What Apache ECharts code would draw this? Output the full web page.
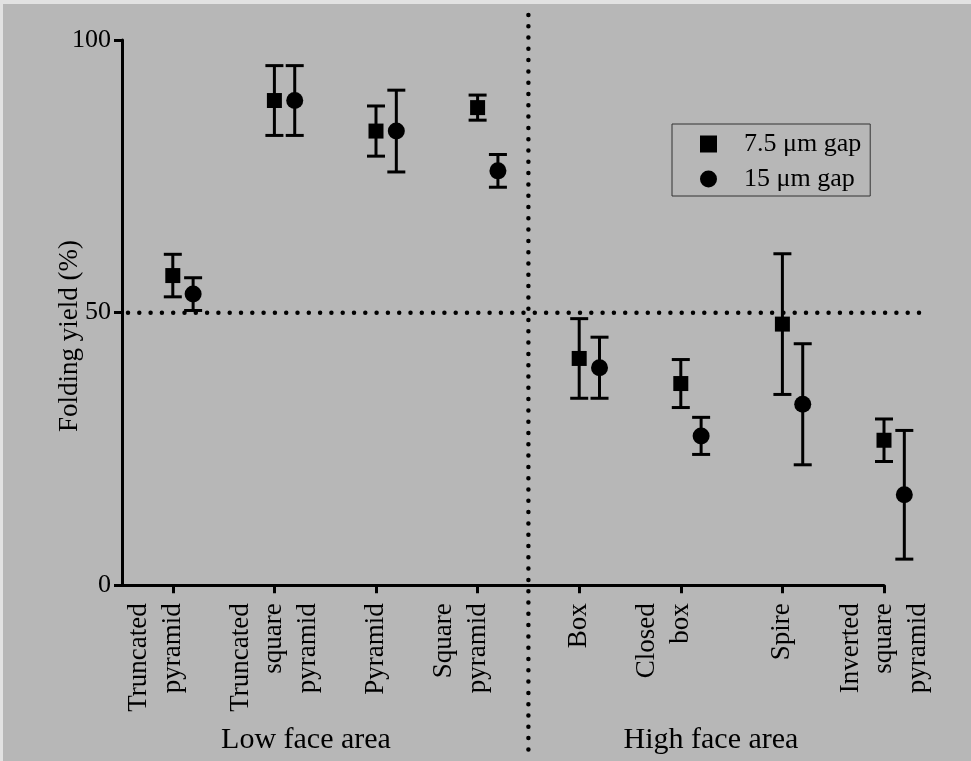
<!DOCTYPE html>
<html><head><meta charset="utf-8">
<script src="https://cdn.jsdelivr.net/npm/echarts@6/dist/echarts.min.js"></script>
<style>
html,body{margin:0;padding:0;background:#e2e2e2;}
#chart{position:absolute;left:3px;top:4px;width:968px;height:757px;}
</style></head><body><div id="chart"></div>
<script>
// ---- data ----
const tickLabels = ['Truncated\npyramid\n ', 'Truncated\nsquare\npyramid', 'Pyramid', 'Square\npyramid\n ',
                    'Box', 'Closed\nbox\n ', 'Spire', 'Inverted\nsquare\npyramid'];
const seriesNames = ['7.5 \u03bcm gap', '15 \u03bcm gap'];
const gap75Mean = [56.8, 88.9, 83.3, 87.6, 41.6, 37.0, 47.9, 26.6];
const gap75Err  = [3.9, 6.4, 4.6, 2.3, 7.3, 4.4, 12.9, 3.9];
const gap15Mean = [53.4, 88.9, 83.3, 76.0, 39.9, 27.4, 33.2, 16.6];
const gap15Err  = [3.0, 6.4, 7.5, 3.0, 5.6, 3.4, 11.1, 11.8];
const yTicks = [0, 50, 100];
const refValue = 50;            // horizontal reference line
const groupDivider = 4.5;       // between the two groups
const groupLabels = ['Low face area', 'High face area'];
const yTitle = 'Folding yield (%)';

// ---- style constants ----
const FONT = "'Liberation Serif','Times New Roman',serif";
const CIRCLE_OFFSET = 0.2;
const catPos = tickLabels.map((_, i) => i + 1);

const chart = echarts.init(document.getElementById('chart'), null, {renderer: 'canvas'});

function errRender(params, api) {
  const x = api.value(0), m = api.value(1), e = api.value(2);
  const top = api.coord([x, m + e]);
  const bot = api.coord([x, m - e]);
  const hw = 9;
  const style = {stroke: '#000', lineWidth: 3, fill: null};
  return {type: 'group', children: [
    {type: 'line', shape: {x1: top[0], y1: top[1], x2: bot[0], y2: bot[1]}, style},
    {type: 'line', shape: {x1: top[0] - hw, y1: top[1], x2: top[0] + hw, y2: top[1]}, style},
    {type: 'line', shape: {x1: bot[0] - hw, y1: bot[1], x2: bot[0] + hw, y2: bot[1]}, style}
  ]};
}

function refRender(params, api) {
  const style = {stroke: '#000', lineWidth: 4.5, lineDash: [0, 11.3], lineCap: 'round', fill: null};
  const vTop = api.coord([groupDivider, 104.6]);
  const vBot = api.coord([groupDivider, -30.6]);
  const hL = api.coord([0.5, refValue]);
  const hR = api.coord([8.35, refValue]);
  return {type: 'group', children: [
    {type: 'line', shape: {x1: vTop[0], y1: vTop[1], x2: vBot[0], y2: vBot[1]}, style},
    {type: 'line', shape: {x1: hL[0] + 6, y1: hL[1], x2: hR[0], y2: hR[1]}, style}
  ]};
}

const option = {
  backgroundColor: '#b7b7b7',
  animation: false,
  textStyle: {fontFamily: FONT, color: '#000'},
  grid: {left: 119, top: 36, right: 87, bottom: 175.7, containLabel: false, outerBoundsMode: 'none'},
  xAxis: {
    type: 'value', min: 0.5, max: 8,
    axisLine: {show: true, onZero: false, lineStyle: {color: '#000', width: 3}},
    axisTick: {show: true, customValues: catPos, length: 8, lineStyle: {color: '#000', width: 3}},
    axisLabel: {customValues: catPos, rotate: 90, margin: 18, fontSize: 27, lineHeight: 33.5,
                color: '#000', fontFamily: FONT, showMinLabel: true, showMaxLabel: true, hideOverlap: false,
                formatter: v => tickLabels[Math.round(v) - 1] || ''},
    splitLine: {show: false}
  },
  yAxis: {
    type: 'value', min: 0, max: 100, interval: 50,
    axisLine: {show: true, onZero: false, lineStyle: {color: '#000', width: 3}},
    axisTick: {show: true, customValues: yTicks, length: 8, lineStyle: {color: '#000', width: 3}},
    axisLabel: {customValues: yTicks, margin: 11, fontSize: 26, color: '#000', fontFamily: FONT,
                showMinLabel: true, showMaxLabel: true},
    splitLine: {show: false}
  },
  legend: {
    orient: 'vertical', left: 669, top: 120,
    data: seriesNames, selectedMode: false,
    itemWidth: 17, itemHeight: 17, itemGap: 5,
    padding: [5, 9, 2, 28],
    borderColor: '#333', borderWidth: 1,
    textStyle: {fontSize: 26, fontFamily: FONT, color: '#000', lineHeight: 30, padding: [0, 0, 0, 22]}
  },
  graphic: [
    {type: 'text', x: 67, y: 332, rotation: Math.PI / 2,
     style: {text: yTitle, font: "27px " + FONT, fill: '#000', align: 'center', verticalAlign: 'middle'}},
    {type: 'text', x: 303, y: 736,
     style: {text: groupLabels[0], font: "30px " + FONT, fill: '#000', align: 'center', verticalAlign: 'middle'}},
    {type: 'text', x: 708, y: 736,
     style: {text: groupLabels[1], font: "30px " + FONT, fill: '#000', align: 'center', verticalAlign: 'middle'}}
  ],
  series: [
    {type: 'custom', name: 'ref', renderItem: refRender, data: [[groupDivider, refValue]],
     encode: {x: 0, y: 1}, clip: false, silent: true, z: 1},
    {type: 'custom', name: 'err75', renderItem: errRender,
     data: gap75Mean.map((m, i) => [catPos[i], m, gap75Err[i]]), encode: {x: 0, y: 1}, clip: false, z: 2},
    {type: 'custom', name: 'err15', renderItem: errRender,
     data: gap15Mean.map((m, i) => [catPos[i] + CIRCLE_OFFSET, m, gap15Err[i]]), encode: {x: 0, y: 1}, clip: false, z: 2},
    {type: 'scatter', name: seriesNames[0], symbol: 'rect', symbolSize: 15, clip: false,
     itemStyle: {color: '#000', opacity: 1}, z: 3,
     data: gap75Mean.map((m, i) => [catPos[i], m])},
    {type: 'scatter', name: seriesNames[1], symbol: 'circle', symbolSize: 17, clip: false,
     itemStyle: {color: '#000', opacity: 1}, z: 3,
     data: gap15Mean.map((m, i) => [catPos[i] + CIRCLE_OFFSET, m])}
  ]
};
chart.setOption(option);
</script></body></html>
